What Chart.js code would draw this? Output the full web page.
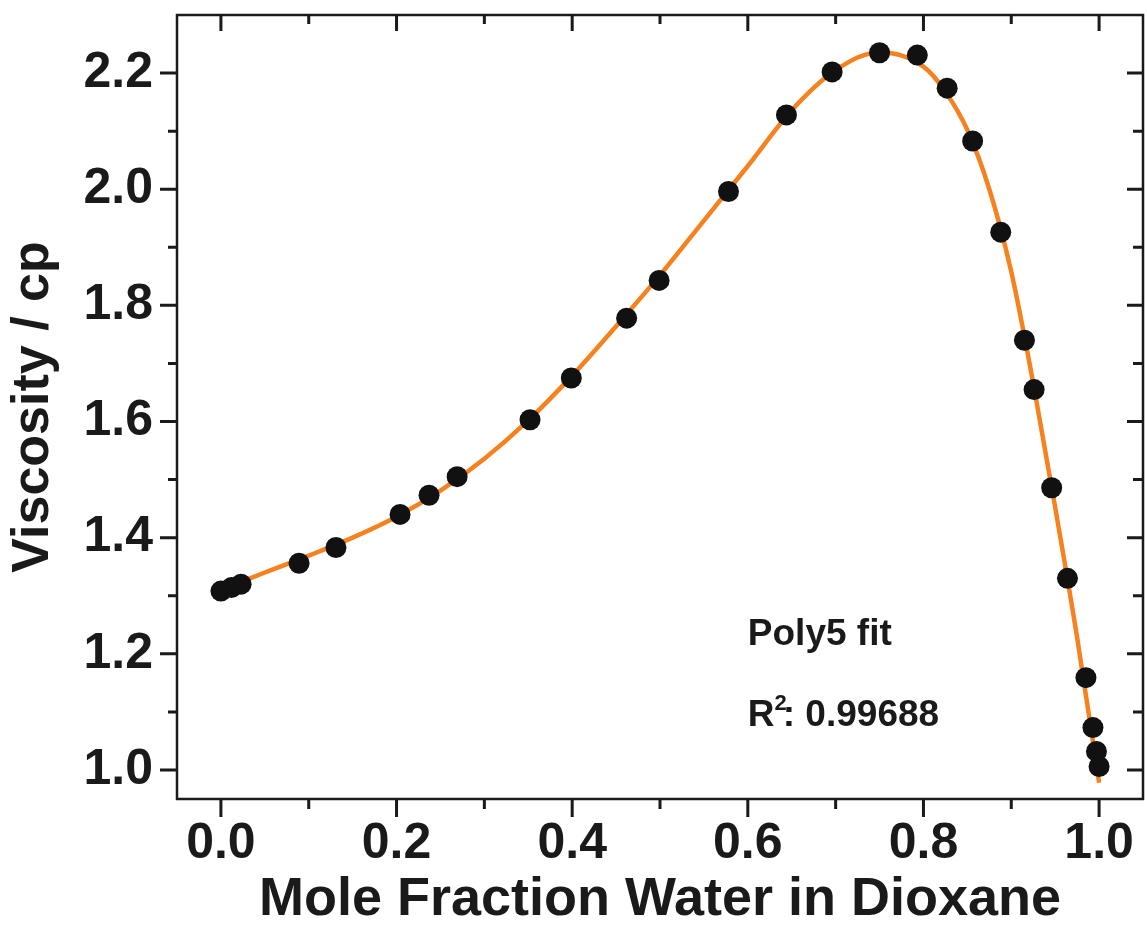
<!DOCTYPE html>
<html>
<head>
    <title>Viscosity of Water / Dioxane</title>
    <script src="https://cdn.jsdelivr.net/npm/chart.js"></script>
    <style>
        html, body { margin: 0; padding: 0; background: #ffffff; }
        #wrap { width: 1147px; height: 931px; }
    </style>
</head>
<body>
    <div id="wrap"><canvas id="chart1" width="1147" height="931"></canvas></div>
    <script>
        // measured points (mole fraction water, viscosity in cp)
        var waterFrac = [0.000, 0.012, 0.023, 0.089, 0.131, 0.204, 0.237, 0.269, 0.352, 0.399,
                         0.462, 0.499, 0.578, 0.644, 0.696, 0.750, 0.793, 0.827, 0.856, 0.888,
                         0.915, 0.926, 0.946, 0.964, 0.985, 0.993, 0.997, 1.000];
        var viscosity = [1.308, 1.314, 1.320, 1.356, 1.383, 1.440, 1.473, 1.505, 1.603, 1.675,
                         1.778, 1.843, 1.996, 2.128, 2.202, 2.235, 2.231, 2.174, 2.083, 1.926,
                         1.740, 1.655, 1.486, 1.330, 1.159, 1.073, 1.032, 1.006];

        // Poly5 fit curve
        var fitX = [0.000, 0.050, 0.100, 0.150, 0.200, 0.250, 0.300, 0.350, 0.400, 0.450,
                    0.500, 0.550, 0.600, 0.650, 0.700, 0.750, 0.800, 0.825, 0.850, 0.875,
                    0.900, 0.925, 0.950, 0.975, 1.000];
        var fitY = [1.310, 1.340, 1.369, 1.400, 1.436, 1.481, 1.536, 1.602, 1.679, 1.764,
                    1.852, 1.946, 2.040, 2.136, 2.205, 2.236, 2.211, 2.168, 2.102, 2.000,
                    1.858, 1.666, 1.452, 1.228, 0.978];

        var xMajor = [0.0, 0.2, 0.4, 0.6, 0.8, 1.0];
        var xMinor = [0.1, 0.3, 0.5, 0.7, 0.9];
        var yMajor = [1.0, 1.2, 1.4, 1.6, 1.8, 2.0, 2.2];
        var yMinor = [1.1, 1.3, 1.5, 1.7, 1.9, 2.1];

        var fitLabel = 'Poly5 fit';
        var r2Value = '0.99688';

        var ink = '#1a1a1a';
        var fontFam = '"Liberation Sans", Arial, sans-serif';

        // frame plus tick marks: outward on bottom/left, inward on top/right
        var framePlugin = {
            id: 'frame',
            afterDatasetsDraw: function (chart) {
                var ctx = chart.ctx, a = chart.chartArea;
                var xs = chart.scales.x, ys = chart.scales.y;
                ctx.save();
                ctx.strokeStyle = ink;
                ctx.lineWidth = 2.5;
                ctx.strokeRect(a.left, a.top, a.right - a.left, a.bottom - a.top);
                ctx.lineWidth = 3;
                ctx.beginPath();
                function xt(list, outLen, inLen) {
                    list.forEach(function (v) {
                        var px = xs.getPixelForValue(v);
                        ctx.moveTo(px, a.bottom); ctx.lineTo(px, a.bottom + outLen);
                        ctx.moveTo(px, a.top); ctx.lineTo(px, a.top + inLen);
                    });
                }
                function yt(list, outLen, inLen) {
                    list.forEach(function (v) {
                        var py = ys.getPixelForValue(v);
                        ctx.moveTo(a.left, py); ctx.lineTo(a.left - outLen, py);
                        ctx.moveTo(a.right, py); ctx.lineTo(a.right - inLen, py);
                    });
                }
                xt(xMajor, 18, 16);
                xt(xMinor, 10, 9);
                yt(yMajor, 17, 16);
                yt(yMinor, 9, 10);
                ctx.stroke();
                ctx.restore();
            }
        };

        // the fit annotation, anchored in data coordinates
        var notePlugin = {
            id: 'note',
            afterDatasetsDraw: function (chart) {
                var ctx = chart.ctx;
                var xs = chart.scales.x, ys = chart.scales.y;
                var x0 = xs.getPixelForValue(0.600);
                ctx.save();
                ctx.fillStyle = ink;
                ctx.textBaseline = 'alphabetic';
                ctx.textAlign = 'left';
                ctx.font = 'bold 37px ' + fontFam;
                ctx.fillText(fitLabel, x0, ys.getPixelForValue(1.215));
                var yb = ys.getPixelForValue(1.076);
                ctx.fillText('R', x0, yb);
                var rw = ctx.measureText('R').width;
                ctx.font = 'bold 22px ' + fontFam;
                ctx.fillText('2', x0 + rw, yb - 16);
                var sw = ctx.measureText('2').width;
                ctx.font = 'bold 37px ' + fontFam;
                ctx.fillText(': ' + r2Value, x0 + rw + sw - 4, yb);
                ctx.restore();
            }
        };

        function noPad(s) {
            s.paddingTop = 0; s.paddingBottom = 0;
            s.paddingLeft = 0; s.paddingRight = 0;
        }

        var ctx1 = document.getElementById('chart1').getContext('2d');
        var chart1 = new Chart(ctx1, {
            type: 'scatter',
            data: {
                datasets: [{
                    label: 'data',
                    data: waterFrac.map(function (x, i) { return { x: x, y: viscosity[i] }; }),
                    pointRadius: 10.5,
                    pointBackgroundColor: '#111111',
                    pointBorderWidth: 0,
                    order: 0
                }, {
                    label: 'fit',
                    type: 'line',
                    data: fitX.map(function (x, i) { return { x: x, y: fitY[i] }; }),
                    borderColor: '#f5821f',
                    borderWidth: 4.5,
                    pointRadius: 0,
                    cubicInterpolationMode: 'monotone',
                    fill: false,
                    order: 1
                }]
            },
            options: {
                responsive: false,
                animation: false,
                layout: { autoPadding: false, padding: { left: 0, right: 4, top: 15, bottom: 0 } },
                plugins: { legend: { display: false }, tooltip: { enabled: false } },
                scales: {
                    x: {
                        type: 'linear',
                        min: -0.05,
                        max: 1.05,
                        afterBuildTicks: function (s) { s.ticks = xMajor.map(function (v) { return { value: v }; }); },
                        afterFit: function (s) { s.height = 132; noPad(s); },
                        grid: { display: false, drawTicks: false },
                        border: { display: false },
                        ticks: {
                            padding: 20,
                            maxRotation: 0,
                            color: ink,
                            font: { family: fontFam, size: 50, weight: 'bold', lineHeight: 1.0 },
                            callback: function (v) { return v.toFixed(1); }
                        },
                        title: {
                            display: true,
                            text: 'Mole Fraction Water in Dioxane',
                            color: ink,
                            font: { family: fontFam, size: 54, weight: 'bold', lineHeight: 1.0 },
                            padding: { top: 0, bottom: 4 }
                        }
                    },
                    y: {
                        type: 'linear',
                        min: 0.95,
                        max: 2.3,
                        afterBuildTicks: function (s) { s.ticks = yMajor.map(function (v) { return { value: v }; }); },
                        afterFit: function (s) { s.width = 177; noPad(s); },
                        grid: { display: false, drawTicks: false },
                        border: { display: false },
                        ticks: {
                            padding: 24,
                            color: ink,
                            font: { family: fontFam, size: 50, weight: 'bold', lineHeight: 1.0 },
                            callback: function (v) { return v.toFixed(1); }
                        },
                        title: {
                            display: true,
                            text: 'Viscosity / cp',
                            color: ink,
                            font: { family: fontFam, size: 52, weight: 'bold', lineHeight: 1.0 },
                            padding: { top: 8, bottom: 0 }
                        }
                    }
                }
            },
            plugins: [framePlugin, notePlugin]
        });
    </script>
</body>
</html>
